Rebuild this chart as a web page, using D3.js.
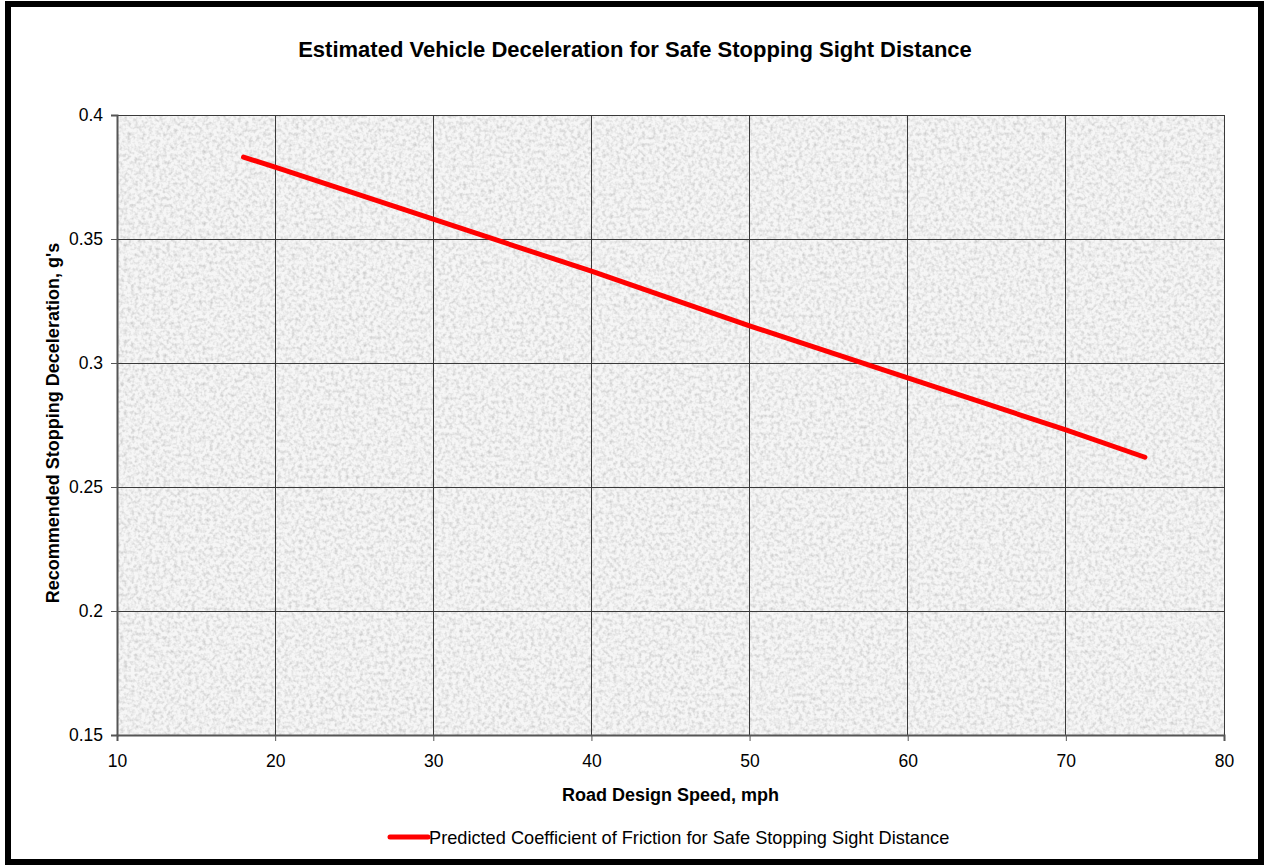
<!DOCTYPE html>
<html>
<head>
<meta charset="utf-8">
<script src="https://cdn.jsdelivr.net/npm/d3@7"></script>
<style>
  html, body { margin: 0; padding: 0; background: #fff; }
  svg { display: block; font-family: Arial, "Liberation Sans", sans-serif; }
</style>
</head>
<body>
<script>
// Chart data
const speeds = [18, 20, 30, 40, 50, 60, 70, 75];
const friction = [0.383, 0.379, 0.358, 0.337, 0.315, 0.294, 0.273, 0.262];
const xTicks = [10, 20, 30, 40, 50, 60, 70, 80];
const yTicks = [0.15, 0.2, 0.25, 0.3, 0.35, 0.4];
const seriesName = 'Predicted Coefficient of Friction for Safe Stopping Sight Distance';

const width = 1264, height = 865;
const margin = { top: 115, right: 40, bottom: 130, left: 117 };
const plotW = 1224 - margin.left;
const plotH = 735 - margin.top;

const svg = d3.select('body')
    .append('svg')
    .attr('width', width)
    .attr('height', height);

// Granite-like fill for the plot area
const defs = svg.append('defs');
const filter = defs.append('filter')
    .attr('id', 'granite')
    .attr('x', 0).attr('y', 0).attr('width', 1).attr('height', 1);
filter.append('feTurbulence')
    .attr('type', 'fractalNoise')
    .attr('baseFrequency', 0.28)
    .attr('numOctaves', 2)
    .attr('seed', 3)
    .attr('result', 'noise');
filter.append('feColorMatrix')
    .attr('in', 'noise')
    .attr('type', 'matrix')
    .attr('values', '0 0 0 0 0  0 0 0 0 0  0 0 0 0 0  0 0 0 -0.7 0.42')
    .attr('result', 'dots');
filter.append('feComposite')
    .attr('in', 'dots')
    .attr('in2', 'SourceGraphic')
    .attr('operator', 'over');

// Outer frame
svg.append('rect')
    .attr('x', 8).attr('y', 4)
    .attr('width', 1253).attr('height', 858)
    .attr('fill', '#fff')
    .attr('stroke', '#000')
    .attr('stroke-width', 6);

const g = svg.append('g')
    .attr('transform', `translate(${margin.left},${margin.top})`);

const x = d3.scaleLinear().domain([10, 80]).range([0, plotW]);
const y = d3.scaleLinear().domain([0.15, 0.4]).range([plotH, 0]);

g.append('rect')
    .attr('width', plotW)
    .attr('height', plotH)
    .attr('fill', '#f6f6f6')
    .attr('filter', 'url(#granite)');

// Grid lines
g.append('g')
    .selectAll('line')
    .data(yTicks.slice(1))
    .enter()
    .append('line')
    .attr('x1', 0).attr('x2', plotW)
    .attr('y1', d => y(d)).attr('y2', d => y(d))
    .attr('stroke', '#3a3a3a')
    .attr('stroke-width', 1)
    .attr('shape-rendering', 'crispEdges');

g.append('g')
    .selectAll('line')
    .data(xTicks.slice(1))
    .enter()
    .append('line')
    .attr('x1', d => x(d)).attr('x2', d => x(d))
    .attr('y1', 0).attr('y2', plotH)
    .attr('stroke', '#3a3a3a')
    .attr('stroke-width', 1)
    .attr('shape-rendering', 'crispEdges');

// Axes
const xAxis = d3.axisBottom(x)
    .tickValues(xTicks)
    .tickSize(6)
    .tickFormat(d3.format('d'));
const yAxis = d3.axisLeft(y)
    .tickValues(yTicks)
    .tickSize(6)
    .tickFormat(d => String(+d.toFixed(2)));

const gx = g.append('g')
    .attr('transform', `translate(0,${plotH})`)
    .call(xAxis);
const gy = g.append('g')
    .call(yAxis);

[gx, gy].forEach(a => {
    a.select('.domain').attr('stroke', '#555').attr('stroke-width', 2);
    a.selectAll('.tick line').attr('stroke', '#555');
    a.selectAll('.tick text')
        .attr('fill', '#000')
        .style('font-size', '17.5px')
        .style('font-family', 'Arial, "Liberation Sans", sans-serif');
});
gx.selectAll('.tick text').attr('dy', '1.33em');
gy.selectAll('.tick text').attr('x', -14);

// Series line
const line = d3.line()
    .x((d, i) => x(speeds[i]))
    .y(d => y(d));

g.append('path')
    .datum(friction)
    .attr('d', line)
    .attr('fill', 'none')
    .attr('stroke', '#ff0000')
    .attr('stroke-width', 5)
    .attr('stroke-linecap', 'round')
    .attr('stroke-linejoin', 'round');

// Title and axis labels
svg.append('text')
    .attr('x', 635)
    .attr('y', 57)
    .attr('text-anchor', 'middle')
    .style('font-size', '22px')
    .style('font-weight', 'bold')
    .text('Estimated Vehicle Deceleration for Safe Stopping Sight Distance');

svg.append('text')
    .attr('x', margin.left + plotW / 2)
    .attr('y', 801)
    .attr('text-anchor', 'middle')
    .style('font-size', '18px')
    .style('font-weight', 'bold')
    .text('Road Design Speed, mph');

svg.append('text')
    .attr('transform', `translate(59,${margin.top + plotH / 2 - 2}) rotate(-90)`)
    .attr('text-anchor', 'middle')
    .style('font-size', '18px')
    .style('font-weight', 'bold')
    .text("Recommended Stopping Deceleration, g's");

// Legend
const legend = svg.append('g')
    .attr('transform', 'translate(390,837)');
legend.append('line')
    .attr('x1', 0).attr('x2', 38)
    .attr('y1', 0).attr('y2', 0)
    .attr('stroke', '#ff0000')
    .attr('stroke-width', 5)
    .attr('stroke-linecap', 'round');
legend.append('text')
    .attr('x', 39)
    .attr('y', 6.5)
    .style('font-size', '18.2px')
    .text(seriesName);
</script>
</body>
</html>
